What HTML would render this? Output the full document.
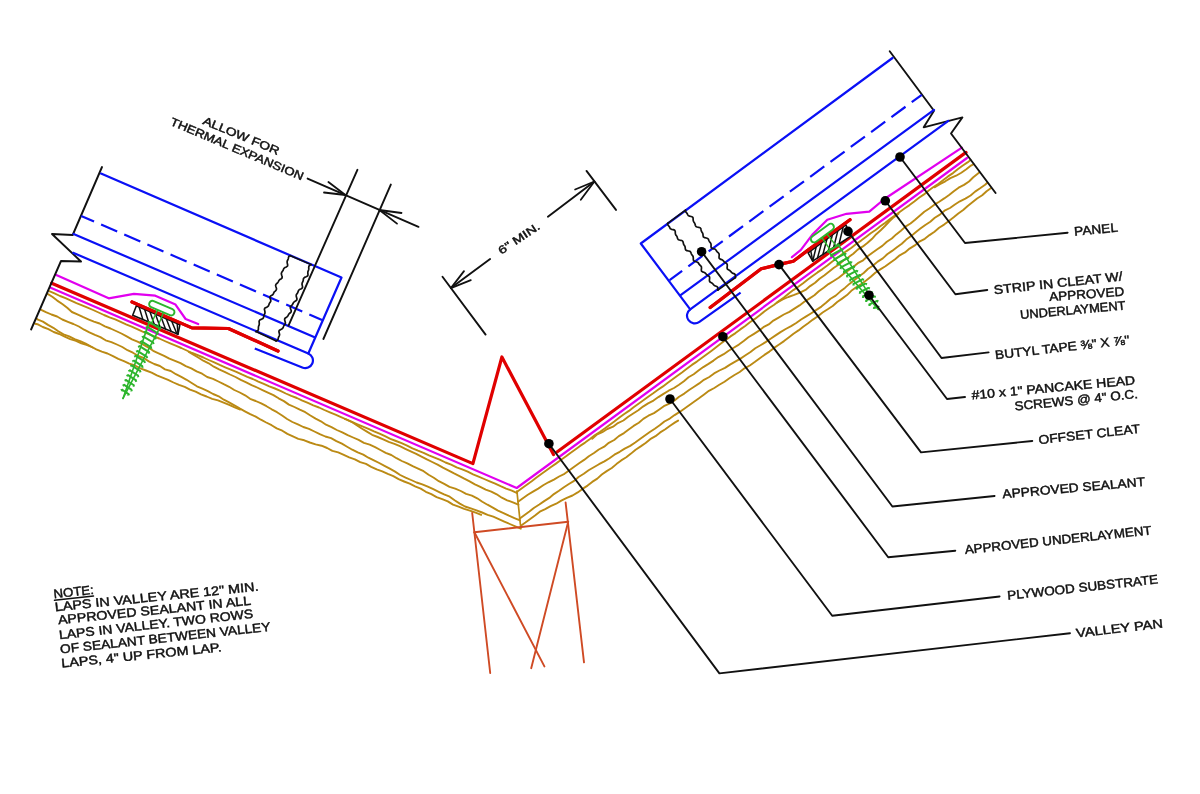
<!DOCTYPE html>
<html><head><meta charset="utf-8"><style>
html,body{margin:0;padding:0;background:#fff;}
body{width:1200px;height:794px;overflow:hidden;position:relative;}
svg{position:absolute;left:0;top:0;will-change:transform;}
.t{font-family:"Liberation Sans",sans-serif;fill:#111;stroke:#111;stroke-width:0.45px;}
</style></head><body>
<svg width="1200" height="794" viewBox="0 0 1200 794">
<rect width="1200" height="794" fill="#fff"/>
<path d="M517.2 493.2 L511.8 490.7 L506.1 488.6 L500.6 486.2 L495.2 483.7 L489.7 481.4 L484.2 479.0 L478.6 476.7 L473.1 474.4 L467.7 471.7 L462.2 469.3 L456.6 467.3 L451.1 464.7 L445.5 462.5 L440.2 459.8 L434.6 457.6 L429.0 455.3 L423.6 452.8 L418.0 450.7 L412.5 448.3 L407.1 445.6 L401.6 443.2 L396.0 441.0 L390.4 438.8 L385.0 436.2 L379.5 433.7 L374.0 431.4 L368.5 428.9 L363.0 426.6 L357.5 424.3 L351.9 421.9 L346.5 419.5 L341.0 417.1 L335.5 414.7 L329.9 412.4 L324.4 410.0 L319.0 407.5 L313.3 405.4 L307.9 402.9 L302.4 400.6 L296.9 398.0 L291.3 395.9 L285.8 393.5 L280.4 390.8 L274.9 388.5 L269.3 386.3 L263.8 383.9 L258.3 381.6 L252.8 379.0 L247.3 376.8 L241.8 374.4 L236.3 371.8 L230.8 369.6 L225.2 367.3 L219.7 364.9 L214.3 362.4 L208.7 360.0 L203.3 357.5 L197.8 355.2 L192.2 353.0 L186.7 350.5 L181.3 348.0 L175.7 345.7 L170.2 343.4 L164.7 341.0 L159.2 338.5 L153.7 336.2 L148.2 333.8 L142.6 331.6 L137.2 329.1 L131.7 326.7 L126.1 324.3 L120.7 321.8 L115.2 319.4 L109.6 317.3 L104.0 315.0 L98.6 312.5 L93.1 310.0 L87.6 307.6 L82.1 305.3 L76.5 303.1 L71.0 300.7 L65.5 298.2 L60.0 296.0 L54.5 293.4 L49.2 291.2" stroke="#bb8a14" stroke-width="1.9" fill="none" stroke-linejoin="round" stroke-linecap="round" />
<path d="M518.4 504.7 L512.9 502.4 L507.2 500.3 L501.8 497.7 L496.7 494.3 L491.3 491.6 L485.7 489.6 L480.3 486.9 L474.9 484.3 L469.6 481.4 L464.3 478.7 L459.0 475.8 L453.6 473.2 L448.3 470.3 L442.9 467.7 L437.6 464.7 L432.2 462.0 L426.9 459.4 L421.5 456.6 L416.2 453.8 L410.7 451.3 L405.3 448.8 L399.9 446.2 L394.4 443.8 L388.7 441.8 L383.2 439.3 L377.7 437.0 L372.1 434.8 L366.9 431.6 L361.7 428.5 L356.7 425.1 L351.5 421.8 L346.1 419.4 L345.0 419.1" stroke="#bb8a14" stroke-width="1.9" fill="none" stroke-linejoin="round" stroke-linecap="round" />
<path d="M520.0 520.4 L514.4 518.1 L508.9 515.7 L503.5 513.1 L498.0 510.6 L492.8 507.6 L487.5 504.7 L482.3 501.7 L477.2 498.3 L471.9 495.6 L466.1 493.9 L460.8 491.0 L455.2 488.6 L449.5 486.9 L444.2 483.9 L438.8 481.2 L433.8 477.8 L428.6 474.7 L423.6 471.2 L418.1 468.6 L412.7 466.2 L407.3 463.4 L401.8 461.0 L396.5 458.2 L391.3 455.0 L385.7 452.8 L380.4 450.0 L375.1 447.2 L369.7 444.6 L363.9 442.8 L358.6 439.9 L353.1 437.5 L347.7 435.1 L342.3 432.4 L336.8 430.0 L331.5 427.2 L326.0 424.7 L320.9 421.3 L315.6 418.6 L310.4 415.5 L305.3 412.2 L299.8 409.7 L294.4 407.0 L288.9 404.6 L283.9 401.1 L278.6 398.3 L273.4 395.1 L267.9 392.6 L262.5 390.1 L257.1 387.5 L251.6 385.1 L246.2 382.4 L240.8 379.9 L235.5 377.0 L230.0 374.5 L224.6 371.8 L219.1 369.4 L213.8 366.7 L208.7 363.3 L203.3 360.7 L198.2 357.5 L193.0 354.4 L188.8 351.9" stroke="#bb8a14" stroke-width="1.9" fill="none" stroke-linejoin="round" stroke-linecap="round" />
<path d="M520.8 528.7 L515.3 526.4 L509.8 524.0 L504.3 521.6 L498.8 519.1 L493.3 516.7 L487.6 514.8 L482.1 512.5 L476.5 510.3 L470.8 508.4 L465.0 506.5 L459.8 503.6 L454.6 500.3 L449.7 496.7 L444.1 494.4 L438.7 491.8 L433.3 489.2 L427.8 486.7 L422.3 484.3 L416.6 482.5 L411.1 480.0 L405.6 477.6 L400.2 475.0 L395.1 471.6 L389.8 468.7 L384.5 465.9 L379.2 463.0 L373.9 460.3 L368.4 457.7 L363.3 454.6 L357.7 452.4 L352.3 449.7 L347.1 446.7 L341.9 443.6 L336.4 441.1 L331.1 438.2 L325.3 436.5 L319.8 434.1 L314.4 431.5 L309.0 428.9 L303.3 427.0 L297.9 424.4 L292.4 422.0 L287.1 419.0 L282.1 415.5 L277.0 412.2 L271.7 409.3 L266.5 406.2 L261.2 403.4 L255.7 401.0 L250.1 398.8 L245.1 395.3 L239.8 392.5 L234.3 390.0 L229.1 386.8 L223.7 384.2 L218.4 381.5 L213.0 378.8 L207.2 377.0 L202.1 373.7 L196.6 371.3 L191.3 368.4 L185.8 366.1 L180.5 363.2 L175.0 360.8 L169.4 358.7 L164.1 355.8 L158.6 353.3 L153.2 350.8 L148.1 347.3 L142.9 344.4 L137.5 341.7 L132.0 339.3 L126.7 336.4 L121.4 333.5 L116.0 331.0 L110.5 328.5 L104.9 326.3 L99.6 323.5 L93.9 321.6 L88.3 319.3 L82.8 316.9 L77.4 314.3 L71.9 312.0 L67.2 307.8 L62.3 304.0 L57.2 300.6 L52.3 296.8 L48.0 294.1" stroke="#bb8a14" stroke-width="1.9" fill="none" stroke-linejoin="round" stroke-linecap="round" />
<path d="M481.2 514.8 L475.6 512.7 L469.9 510.7 L464.2 508.9 L458.6 506.7 L453.0 504.6 L447.8 501.4 L442.2 499.2 L436.6 497.1 L431.3 494.2 L425.8 491.8 L420.7 488.6 L415.1 486.4 L409.7 483.7 L404.1 481.5 L398.6 479.2 L393.3 476.2 L387.8 473.9 L382.3 471.4 L376.7 469.4 L371.2 466.8 L366.0 463.9 L360.2 462.1 L354.9 459.3 L349.2 457.4 L343.8 454.8 L338.2 452.4 L332.4 450.9 L327.1 448.0 L321.5 445.7 L315.6 444.4 L309.8 442.5 L304.3 440.3 L298.3 438.9 L292.9 436.4 L287.4 433.9 L282.3 430.7 L276.7 428.4 L271.6 425.2 L266.2 422.5 L260.9 419.7 L255.7 416.6 L250.2 414.2 L244.9 411.3 L239.6 408.4 L234.4 405.3 L229.1 402.4 L223.8 399.7 L218.7 396.3 L213.1 394.0 L207.8 391.2 L202.4 388.7 L196.9 386.3 L191.7 383.0 L186.6 379.8 L181.3 376.9 L175.9 374.2 L170.8 371.0 L165.0 369.4 L159.9 366.0 L154.2 364.0 L148.8 361.4 L143.7 358.0 L138.1 355.8 L132.9 352.7 L127.5 350.2 L122.3 347.0 L116.9 344.5 L111.4 342.1 L105.6 340.3 L100.4 337.1 L94.9 334.9 L89.4 332.4 L84.1 329.7 L78.9 326.5 L73.4 324.0 L67.9 321.8 L62.3 319.5 L57.1 316.5 L51.4 314.5 L45.9 312.1 L41.2 309.8" stroke="#bb8a14" stroke-width="1.9" fill="none" stroke-linejoin="round" stroke-linecap="round" />
<path d="M240.2 409.5 L234.7 407.3 L229.2 404.9 L223.6 402.6 L218.0 400.4 L212.2 398.9 L206.6 396.5 L201.0 394.4 L195.6 391.7 L190.0 389.6 L184.7 386.9 L179.0 384.9 L173.5 382.5 L168.1 379.9 L162.5 377.6 L156.9 375.3 L151.6 372.6 L146.0 370.5 L140.4 368.3 L135.0 365.5 L129.3 363.6 L123.9 361.1 L118.3 358.9 L113.0 356.1 L107.5 353.5 L101.8 351.7 L96.3 349.3 L91.0 346.5 L85.7 343.7 L80.2 341.2 L74.6 339.1 L69.2 336.3 L63.5 334.4 L58.3 331.3 L53.3 327.8 L48.0 324.9 L42.9 321.6 L37.3 319.4 L37.3 318.9" stroke="#bb8a14" stroke-width="1.9" fill="none" stroke-linejoin="round" stroke-linecap="round" />
<path d="M92.7 347.5 L87.2 345.1 L81.4 343.4 L76.0 340.8 L70.2 339.1 L64.7 336.7 L59.3 334.0 L53.7 332.0 L48.4 329.1 L42.8 327.0 L37.4 324.2 L35.2 323.7" stroke="#bb8a14" stroke-width="1.9" fill="none" stroke-linejoin="round" stroke-linecap="round" />
<path d="M517.1 491.8 L521.9 488.2 L526.8 484.7 L531.7 481.3 L536.5 477.6 L541.3 474.1 L546.2 470.6 L551.0 467.0 L555.9 463.6 L560.8 460.1 L565.7 456.6 L570.4 452.9 L575.3 449.4 L580.1 445.9 L585.1 442.6 L590.0 439.0 L594.7 435.3 L599.8 432.1 L604.7 428.6 L609.5 425.0 L614.3 421.5 L619.1 417.8 L623.9 414.3 L628.9 410.9 L633.6 407.3 L638.5 403.8 L643.4 400.3 L648.2 396.7 L653.2 393.3 L658.0 389.8 L663.0 386.4 L667.8 382.7 L672.6 379.2 L677.4 375.7 L682.3 372.2 L687.1 368.6 L691.9 364.9 L696.9 361.6 L701.7 358.1 L706.5 354.5 L711.3 350.9 L716.1 347.2 L720.9 343.6 L725.7 340.1 L730.5 336.4 L735.5 333.1 L740.3 329.4 L745.2 326.0 L749.9 322.3 L754.9 318.9 L759.7 315.3 L764.3 311.5 L769.2 308.0 L774.2 304.7 L778.9 301.0 L783.9 297.6 L788.5 293.8 L793.3 290.1 L798.3 286.8 L803.1 283.3 L807.8 279.5 L812.6 275.9 L817.5 272.4 L822.5 269.1 L827.3 265.5 L832.0 261.7 L836.8 258.2 L841.7 254.6 L846.5 251.1 L851.5 247.7 L856.2 244.0 L861.1 240.6 L865.9 237.0 L870.7 233.3 L875.6 230.0 L880.3 226.2 L885.3 222.8 L890.0 219.1 L894.9 215.6 L899.7 212.0 L904.5 208.5 L909.5 205.1 L914.3 201.5 L919.0 197.8 L924.0 194.4 L928.7 190.6 L933.5 187.1 L938.5 183.7 L943.3 180.1 L948.0 176.4 L953.0 173.1 L957.7 169.3 L962.5 165.8 L967.5 162.4 L970.6 160.0" stroke="#bb8a14" stroke-width="1.9" fill="none" stroke-linejoin="round" stroke-linecap="round" />
<path d="M518.1 501.7 L522.9 498.2 L527.8 494.7 L533.0 491.6 L538.2 488.6 L543.2 485.3 L548.4 482.3 L553.9 479.6 L559.1 476.5 L564.5 473.8 L569.4 470.3 L574.2 466.7 L579.1 463.2 L584.1 459.9 L588.8 456.2 L594.0 453.0 L598.8 449.5 L604.2 446.7 L608.8 442.8 L614.2 440.0 L618.8 436.1 L624.0 433.1 L628.7 429.4 L633.6 425.9 L638.8 422.8 L643.3 418.9 L648.4 415.7 L654.0 413.1 L658.9 409.7 L663.8 406.2 L669.4 403.7 L674.5 400.5 L679.1 396.7 L684.3 393.6 L689.1 390.0 L694.1 386.7 L699.2 383.4 L703.9 379.8 L709.3 377.0 L714.1 373.4 L719.4 370.5 L725.0 367.9 L730.0 364.6 L735.2 361.6 L740.5 358.6 L745.5 355.3 L750.5 352.0 L755.3 348.3 L760.5 345.3 L765.6 342.1 L770.6 338.8 L775.6 335.4 L780.5 332.1 L785.7 329.0 L791.1 326.1 L796.2 323.0 L801.1 319.5 L806.2 316.4 L811.3 313.2 L816.4 309.9 L821.4 306.6 L826.0 302.8 L830.5 298.8 L835.7 295.6 L840.2 291.6 L844.9 287.9 L849.4 283.9 L854.2 280.3 L858.8 276.5 L863.7 273.0 L868.1 268.8 L873.1 265.5 L877.7 261.6 L882.8 258.4 L887.2 254.3 L892.1 250.9 L896.9 247.2 L901.8 243.7 L906.2 239.6 L911.1 236.1 L915.7 232.2 L920.4 228.6 L925.3 225.0 L930.3 221.7 L934.8 217.8 L939.9 214.6 L944.5 210.7 L950.0 208.0 L954.9 204.5 L959.9 201.3 L965.4 198.6 L970.6 195.5 L975.1 191.6 L980.1 188.3 L985.1 184.8 L987.3 182.8" stroke="#bb8a14" stroke-width="1.9" fill="none" stroke-linejoin="round" stroke-linecap="round" />
<path d="M519.8 518.5 L524.6 514.9 L529.4 511.4 L534.2 507.7 L539.3 504.5 L544.2 501.1 L549.3 497.9 L553.9 494.1 L559.0 490.8 L563.9 487.3 L568.9 484.0 L574.1 480.9 L578.6 477.0 L583.8 473.8 L588.6 470.3 L593.8 467.2 L599.0 464.2 L604.4 461.4 L609.5 458.2 L614.4 454.7 L619.7 451.8 L624.7 448.6 L630.2 445.9 L635.2 442.5 L640.0 439.0 L644.9 435.5 L649.8 432.0 L654.8 428.7 L659.7 425.3 L664.4 421.5 L669.8 418.6 L674.6 415.1 L679.7 411.9 L684.6 408.4 L689.5 404.9 L694.4 401.5 L699.3 398.0 L704.1 394.4 L708.9 390.8 L714.3 388.0 L719.3 384.8 L724.5 381.7 L729.4 378.3 L734.5 375.0 L739.7 372.0 L744.5 368.3 L749.8 365.5 L754.7 362.0 L759.5 358.4 L764.4 354.9 L769.4 351.6 L774.1 347.9 L779.1 344.5 L784.0 341.1 L788.7 337.4 L793.5 333.7 L798.5 330.4 L803.2 326.7 L808.1 323.2 L812.9 319.6 L817.9 316.2 L822.6 312.5 L827.7 309.3 L832.7 306.0 L837.2 302.0 L842.1 298.6 L847.0 295.1 L851.3 290.8 L856.2 287.3 L861.3 284.1 L866.1 280.5 L870.8 276.8 L875.3 272.8 L880.3 269.4 L885.4 266.2 L890.2 262.7 L895.1 259.2 L899.7 255.3 L905.0 252.4 L909.6 248.6 L914.8 245.4 L919.4 241.6 L924.8 238.8 L929.5 235.1 L934.5 231.7 L939.1 227.8 L944.1 224.6 L948.9 221.0 L953.7 217.3 L958.3 213.5 L963.2 210.0 L967.7 206.0 L972.4 202.3 L977.1 198.5 L982.2 195.3 L986.6 191.2 L991.1 188.0" stroke="#bb8a14" stroke-width="1.9" fill="none" stroke-linejoin="round" stroke-linecap="round" />
<path d="M520.5 526.1 L525.4 522.6 L530.2 519.0 L535.0 515.5 L539.8 511.7 L545.2 509.1 L550.6 506.2 L556.2 503.7 L561.3 500.6 L566.8 497.9 L572.5 495.5 L577.7 492.4 L582.5 488.9 L587.6 485.6 L592.2 481.9 L597.3 478.6 L601.8 474.5 L606.7 471.1 L611.8 468.0 L616.4 464.1 L621.2 460.4 L626.3 457.3 L631.0 453.6 L635.6 449.7 L640.7 446.4 L645.6 443.0 L650.2 439.2 L655.5 436.2 L660.2 432.4 L665.3 429.3 L670.1 425.7 L675.1 422.4 L678.1 420.6" stroke="#bb8a14" stroke-width="1.9" fill="none" stroke-linejoin="round" stroke-linecap="round" />
<path d="M592.2 438.8 L596.7 434.7 L602.3 432.2 L607.3 429.0 L613.1 426.7 L617.9 423.1 L623.4 420.5 L628.2 416.8 L633.2 413.5 L638.3 410.3 L643.0 406.6 L648.1 403.4 L653.5 400.6 L658.4 397.1 L663.5 393.9 L668.6 390.7 L674.0 388.0 L679.0 384.7 L683.9 381.2 L688.5 377.3 L693.7 374.3 L698.5 370.6 L703.3 367.1 L708.5 363.9 L713.5 360.6 L718.3 357.1 L723.7 354.2 L728.6 350.8 L733.7 347.7 L738.9 344.6 L743.7 341.0 L748.4 337.3 L753.6 334.1 L758.6 330.9 L763.4 327.2 L768.7 324.4 L773.4 320.6 L778.6 317.6 L783.8 314.5 L789.4 311.9 L794.4 308.6 L799.5 305.4 L804.3 301.8 L809.3 298.6 L814.4 295.3 L818.8 291.2 L823.7 287.7 L828.5 284.1 L833.6 281.0 L838.7 277.7 L843.4 274.0 L848.2 270.4 L853.1 267.0 L857.8 263.2 L863.1 260.3 L867.6 256.3 L872.4 252.7 L877.3 249.2 L882.3 245.9 L886.8 241.8 L891.8 238.5 L896.2 234.4 L900.9 230.7 L905.4 226.6 L910.5 223.5 L915.1 219.7 L919.7 215.7 L924.3 211.8 L929.3 208.5 L934.0 204.9 L939.2 201.7 L944.2 198.4 L949.1 194.9 L953.8 191.2 L958.6 187.7 L964.0 184.9 L969.0 181.5 L973.3 177.3 L978.0 173.5 L979.6 172.3" stroke="#bb8a14" stroke-width="1.9" fill="none" stroke-linejoin="round" stroke-linecap="round" />
<path d="M777.4 302.4 L782.7 299.4 L788.3 297.0 L794.2 294.9 L800.0 292.6 L805.5 289.9 L810.1 286.1 L815.1 282.8 L819.5 278.7 L824.5 275.2 L829.2 271.6 L833.9 267.8 L838.9 264.5 L843.4 260.5 L848.4 257.2 L853.3 253.7 L857.7 249.6 L862.9 246.4 L867.6 242.8 L872.1 238.8 L876.2 234.2 L880.7 230.2 L885.0 226.0 L889.2 221.5 L893.6 217.4 L898.5 213.8" stroke="#bb8a14" stroke-width="1.9" fill="none" stroke-linejoin="round" stroke-linecap="round" />
<path d="M934.8 187.2 L939.9 184.1 L945.3 181.3 L950.4 178.1 L956.1 175.7 L961.3 172.7 L966.3 169.3 L971.0 165.6 L973.7 164.2" stroke="#bb8a14" stroke-width="1.9" fill="none" stroke-linejoin="round" stroke-linecap="round" />
<path d="M516.9 491.0 L520.4 524.5" stroke="#bb8a14" stroke-width="1.7" fill="none" stroke-linejoin="round" stroke-linecap="round" />
<path d="M50.7 287.7 L516.7 488.0 L967.0 158.0" stroke="#e100ef" stroke-width="2.2" fill="none" stroke-linejoin="round" stroke-linecap="round" />
<path d="M51.7 283.2 L472.9 463.6 L501.9 357.0 L553.5 454.6" stroke="#e00000" stroke-width="3.2" fill="none" stroke-linejoin="round" stroke-linecap="round" />
<path d="M557.0 452.0 L966.0 152.4" stroke="#e00000" stroke-width="3.2" fill="none" stroke-linejoin="round" stroke-linecap="round" />
<path d="M56.3 275.1 L108.7 298.3 L133.9 293.8 L155.3 295.7 L175.5 304.6 L185.6 319.0 L198.2 324.0" stroke="#e100ef" stroke-width="2.2" fill="none" stroke-linejoin="round" stroke-linecap="round" />
<path d="M791.9 257.2 L800.9 249.9 L812.2 234.8 L827.3 219.7 L846.5 213.8 L869.3 211.6 L884.4 199.0 L961.9 147.7" stroke="#e100ef" stroke-width="2.2" fill="none" stroke-linejoin="round" stroke-linecap="round" />
<path d="M132.0 302.0 L191.9 327.9 L228.4 328.5 L278.0 351.0" stroke="#e00000" stroke-width="3.2" fill="none" stroke-linejoin="round" stroke-linecap="round" />
<path d="M710.2 307.5 L761.2 268.8 L778.2 264.6 L793.3 261.2 L808.4 249.9 L850.0 219.7" stroke="#e00000" stroke-width="3.2" fill="none" stroke-linejoin="round" stroke-linecap="round" />
<polygon points="136.4,305.8 179.9,324.7 178.0,334.2 132.7,315.3" fill="#fff" stroke="#111" stroke-width="1.6" stroke-linejoin="round"/>
<path d="M139.1 307.0 L142.9 319.6" stroke="#111" stroke-width="1.5" fill="none" stroke-linejoin="round" stroke-linecap="round" />
<path d="M144.6 309.3 L148.6 321.9" stroke="#111" stroke-width="1.5" fill="none" stroke-linejoin="round" stroke-linecap="round" />
<path d="M150.0 311.7 L154.2 324.3" stroke="#111" stroke-width="1.5" fill="none" stroke-linejoin="round" stroke-linecap="round" />
<path d="M155.4 314.1 L159.9 326.6" stroke="#111" stroke-width="1.5" fill="none" stroke-linejoin="round" stroke-linecap="round" />
<path d="M160.9 316.4 L165.5 329.0" stroke="#111" stroke-width="1.5" fill="none" stroke-linejoin="round" stroke-linecap="round" />
<path d="M166.3 318.8 L171.2 331.4" stroke="#111" stroke-width="1.5" fill="none" stroke-linejoin="round" stroke-linecap="round" />
<path d="M171.7 321.2 L176.9 333.7" stroke="#111" stroke-width="1.5" fill="none" stroke-linejoin="round" stroke-linecap="round" />
<path d="M177.2 323.5 L178.0 334.2" stroke="#111" stroke-width="1.5" fill="none" stroke-linejoin="round" stroke-linecap="round" />
<polygon points="808.1,252.9 845.9,224.9 850.4,236.3 812.7,261.2" fill="#fff" stroke="#111" stroke-width="1.6" stroke-linejoin="round"/>
<path d="M810.8 250.9 L812.7 261.2" stroke="#111" stroke-width="1.5" fill="none" stroke-linejoin="round" stroke-linecap="round" />
<path d="M816.2 246.9 L812.7 261.2" stroke="#111" stroke-width="1.5" fill="none" stroke-linejoin="round" stroke-linecap="round" />
<path d="M821.6 242.9 L817.5 258.0" stroke="#111" stroke-width="1.5" fill="none" stroke-linejoin="round" stroke-linecap="round" />
<path d="M827.0 238.9 L822.9 254.4" stroke="#111" stroke-width="1.5" fill="none" stroke-linejoin="round" stroke-linecap="round" />
<path d="M832.4 234.9 L828.3 250.9" stroke="#111" stroke-width="1.5" fill="none" stroke-linejoin="round" stroke-linecap="round" />
<path d="M837.8 230.9 L833.7 247.3" stroke="#111" stroke-width="1.5" fill="none" stroke-linejoin="round" stroke-linecap="round" />
<path d="M843.2 226.9 L839.1 243.8" stroke="#111" stroke-width="1.5" fill="none" stroke-linejoin="round" stroke-linecap="round" />
<path d="M132.0 302.0 L191.9 327.9 L228.4 328.5 L278.0 351.0" stroke="#e00000" stroke-width="3.2" fill="none" stroke-linejoin="round" stroke-linecap="round" />
<path d="M710.2 307.5 L761.2 268.8 L778.2 264.6 L793.3 261.2 L808.4 249.9 L850.0 219.7" stroke="#e00000" stroke-width="3.2" fill="none" stroke-linejoin="round" stroke-linecap="round" />
<rect x="-13.5" y="-3.3" width="27" height="6.6" rx="3.3" ry="3.3" transform="translate(161.8 308.1) rotate(23.26)" fill="none" stroke="#2cb52c" stroke-width="1.9"/>
<path d="M157.4 310.3 L151.1 324.0" stroke="#2cb52c" stroke-width="1.4" fill="none" stroke-linejoin="round" stroke-linecap="round" />
<path d="M163.3 312.9 L157.7 326.8" stroke="#2cb52c" stroke-width="1.4" fill="none" stroke-linejoin="round" stroke-linecap="round" />
<path d="M149.3 322.1 L123.0 398.4" stroke="#2cb52c" stroke-width="1.6" fill="none" stroke-linejoin="round" stroke-linecap="round" />
<path d="M160.3 326.8 L123.0 398.4" stroke="#2cb52c" stroke-width="1.6" fill="none" stroke-linejoin="round" stroke-linecap="round" />
<path d="M149.3 322.1 L159.6 328.3" stroke="#2cb52c" stroke-width="2.0" fill="none" stroke-linejoin="round" stroke-linecap="round" />
<path d="M149.7 321.2 L147.2 321.8 L148.5 324.1Z" fill="#2cb52c"/>
<path d="M160.1 327.4 L161.2 329.6 L158.7 330.3Z" fill="#2cb52c"/>
<path d="M147.4 326.9 L157.5 333.0" stroke="#2cb52c" stroke-width="2.0" fill="none" stroke-linejoin="round" stroke-linecap="round" />
<path d="M147.7 326.0 L145.3 326.7 L146.5 329.0Z" fill="#2cb52c"/>
<path d="M157.9 332.1 L159.0 334.3 L156.5 335.0Z" fill="#2cb52c"/>
<path d="M145.4 331.7 L155.3 337.7" stroke="#2cb52c" stroke-width="2.0" fill="none" stroke-linejoin="round" stroke-linecap="round" />
<path d="M145.8 330.8 L143.4 331.5 L144.6 333.8Z" fill="#2cb52c"/>
<path d="M155.7 336.8 L156.9 339.1 L154.4 339.7Z" fill="#2cb52c"/>
<path d="M143.5 336.6 L153.1 342.5" stroke="#2cb52c" stroke-width="2.0" fill="none" stroke-linejoin="round" stroke-linecap="round" />
<path d="M143.9 335.7 L141.4 336.3 L142.7 338.6Z" fill="#2cb52c"/>
<path d="M153.5 341.5 L154.7 343.8 L152.2 344.4Z" fill="#2cb52c"/>
<path d="M141.6 341.4 L150.9 347.2" stroke="#2cb52c" stroke-width="2.0" fill="none" stroke-linejoin="round" stroke-linecap="round" />
<path d="M141.9 340.5 L139.5 341.2 L140.8 343.5Z" fill="#2cb52c"/>
<path d="M151.3 346.3 L152.5 348.5 L150.0 349.2Z" fill="#2cb52c"/>
<path d="M139.6 346.2 L148.7 351.9" stroke="#2cb52c" stroke-width="2.0" fill="none" stroke-linejoin="round" stroke-linecap="round" />
<path d="M140.0 345.3 L137.6 346.0 L138.8 348.3Z" fill="#2cb52c"/>
<path d="M149.2 351.0 L150.3 353.2 L147.8 353.9Z" fill="#2cb52c"/>
<path d="M137.7 351.1 L146.6 356.6" stroke="#2cb52c" stroke-width="2.0" fill="none" stroke-linejoin="round" stroke-linecap="round" />
<path d="M138.1 350.1 L135.6 350.8 L136.9 353.1Z" fill="#2cb52c"/>
<path d="M147.0 355.7 L148.2 358.0 L145.6 358.6Z" fill="#2cb52c"/>
<path d="M135.8 355.9 L144.4 361.3" stroke="#2cb52c" stroke-width="2.0" fill="none" stroke-linejoin="round" stroke-linecap="round" />
<path d="M136.2 355.0 L133.7 355.7 L135.0 357.9Z" fill="#2cb52c"/>
<path d="M144.8 360.4 L146.0 362.7 L143.5 363.3Z" fill="#2cb52c"/>
<path d="M133.9 360.7 L142.2 366.1" stroke="#2cb52c" stroke-width="2.0" fill="none" stroke-linejoin="round" stroke-linecap="round" />
<path d="M134.2 359.8 L131.8 360.5 L133.0 362.8Z" fill="#2cb52c"/>
<path d="M142.6 365.2 L143.8 367.4 L141.3 368.1Z" fill="#2cb52c"/>
<path d="M131.9 365.6 L140.0 370.8" stroke="#2cb52c" stroke-width="2.0" fill="none" stroke-linejoin="round" stroke-linecap="round" />
<path d="M132.3 364.6 L129.9 365.3 L131.1 367.6Z" fill="#2cb52c"/>
<path d="M140.5 369.9 L141.6 372.1 L139.1 372.8Z" fill="#2cb52c"/>
<path d="M130.0 370.4 L137.9 375.5" stroke="#2cb52c" stroke-width="2.0" fill="none" stroke-linejoin="round" stroke-linecap="round" />
<path d="M130.4 369.5 L127.9 370.2 L129.2 372.4Z" fill="#2cb52c"/>
<path d="M138.3 374.6 L139.4 376.9 L136.9 377.5Z" fill="#2cb52c"/>
<path d="M128.1 375.2 L135.7 380.2" stroke="#2cb52c" stroke-width="2.0" fill="none" stroke-linejoin="round" stroke-linecap="round" />
<path d="M128.4 374.3 L126.0 375.0 L127.3 377.3Z" fill="#2cb52c"/>
<path d="M136.1 379.3 L137.3 381.6 L134.8 382.2Z" fill="#2cb52c"/>
<path d="M126.1 380.1 L133.5 385.0" stroke="#2cb52c" stroke-width="2.0" fill="none" stroke-linejoin="round" stroke-linecap="round" />
<path d="M126.5 379.1 L124.1 379.8 L125.3 382.1Z" fill="#2cb52c"/>
<path d="M133.9 384.1 L135.1 386.3 L132.6 387.0Z" fill="#2cb52c"/>
<path d="M124.2 384.9 L131.3 389.7" stroke="#2cb52c" stroke-width="2.0" fill="none" stroke-linejoin="round" stroke-linecap="round" />
<path d="M124.6 384.0 L122.1 384.7 L123.4 386.9Z" fill="#2cb52c"/>
<path d="M131.7 388.8 L132.9 391.0 L130.4 391.7Z" fill="#2cb52c"/>
<path d="M122.3 389.7 L128.5 394.1" stroke="#2cb52c" stroke-width="2.0" fill="none" stroke-linejoin="round" stroke-linecap="round" />
<path d="M122.7 388.8 L120.2 389.5 L122.4 392.2Z" fill="#2cb52c"/>
<path d="M129.4 393.4 L129.8 395.3 L126.5 395.7Z" fill="#2cb52c"/>
<rect x="-13.5" y="-3.3" width="27" height="6.6" rx="3.3" ry="3.3" transform="translate(822.4 233.1) rotate(-36.24)" fill="none" stroke="#2cb52c" stroke-width="1.9"/>
<path d="M822.1 238.0 L830.6 250.4" stroke="#2cb52c" stroke-width="1.4" fill="none" stroke-linejoin="round" stroke-linecap="round" />
<path d="M827.2 234.2 L836.4 246.1" stroke="#2cb52c" stroke-width="1.4" fill="none" stroke-linejoin="round" stroke-linecap="round" />
<path d="M828.1 251.0 L878.3 309.4" stroke="#2cb52c" stroke-width="1.6" fill="none" stroke-linejoin="round" stroke-linecap="round" />
<path d="M837.8 243.9 L878.3 309.4" stroke="#2cb52c" stroke-width="1.6" fill="none" stroke-linejoin="round" stroke-linecap="round" />
<path d="M828.1 251.0 L838.7 245.2" stroke="#2cb52c" stroke-width="2.0" fill="none" stroke-linejoin="round" stroke-linecap="round" />
<path d="M827.5 250.2 L826.8 252.6 L829.4 252.7Z" fill="#2cb52c"/>
<path d="M838.1 244.4 L840.6 244.5 L839.9 247.0Z" fill="#2cb52c"/>
<path d="M831.3 255.1 L841.6 249.5" stroke="#2cb52c" stroke-width="2.0" fill="none" stroke-linejoin="round" stroke-linecap="round" />
<path d="M830.7 254.3 L830.0 256.7 L832.6 256.8Z" fill="#2cb52c"/>
<path d="M841.1 248.7 L843.6 248.8 L842.9 251.3Z" fill="#2cb52c"/>
<path d="M834.5 259.2 L844.6 253.8" stroke="#2cb52c" stroke-width="2.0" fill="none" stroke-linejoin="round" stroke-linecap="round" />
<path d="M833.9 258.4 L833.2 260.9 L835.8 260.9Z" fill="#2cb52c"/>
<path d="M844.0 252.9 L846.6 253.1 L845.9 255.6Z" fill="#2cb52c"/>
<path d="M837.7 263.3 L847.6 258.0" stroke="#2cb52c" stroke-width="2.0" fill="none" stroke-linejoin="round" stroke-linecap="round" />
<path d="M837.0 262.5 L836.4 265.0 L839.0 265.0Z" fill="#2cb52c"/>
<path d="M847.0 257.2 L849.5 257.3 L848.8 259.8Z" fill="#2cb52c"/>
<path d="M840.8 267.4 L850.5 262.3" stroke="#2cb52c" stroke-width="2.0" fill="none" stroke-linejoin="round" stroke-linecap="round" />
<path d="M840.2 266.6 L839.6 269.1 L842.2 269.2Z" fill="#2cb52c"/>
<path d="M849.9 261.5 L852.5 261.6 L851.8 264.1Z" fill="#2cb52c"/>
<path d="M844.0 271.5 L853.5 266.6" stroke="#2cb52c" stroke-width="2.0" fill="none" stroke-linejoin="round" stroke-linecap="round" />
<path d="M843.4 270.7 L842.8 273.2 L845.4 273.3Z" fill="#2cb52c"/>
<path d="M852.9 265.8 L855.4 265.9 L854.7 268.4Z" fill="#2cb52c"/>
<path d="M847.2 275.6 L856.4 270.9" stroke="#2cb52c" stroke-width="2.0" fill="none" stroke-linejoin="round" stroke-linecap="round" />
<path d="M846.6 274.8 L846.0 277.3 L848.6 277.4Z" fill="#2cb52c"/>
<path d="M855.9 270.0 L858.4 270.2 L857.7 272.7Z" fill="#2cb52c"/>
<path d="M850.4 279.7 L859.4 275.1" stroke="#2cb52c" stroke-width="2.0" fill="none" stroke-linejoin="round" stroke-linecap="round" />
<path d="M849.8 279.0 L849.2 281.4 L851.8 281.5Z" fill="#2cb52c"/>
<path d="M858.8 274.3 L861.3 274.5 L860.6 277.0Z" fill="#2cb52c"/>
<path d="M853.6 283.9 L862.4 279.4" stroke="#2cb52c" stroke-width="2.0" fill="none" stroke-linejoin="round" stroke-linecap="round" />
<path d="M853.0 283.1 L852.3 285.5 L854.9 285.6Z" fill="#2cb52c"/>
<path d="M861.8 278.6 L864.3 278.7 L863.6 281.2Z" fill="#2cb52c"/>
<path d="M856.8 288.0 L865.3 283.7" stroke="#2cb52c" stroke-width="2.0" fill="none" stroke-linejoin="round" stroke-linecap="round" />
<path d="M856.2 287.2 L855.5 289.6 L858.1 289.7Z" fill="#2cb52c"/>
<path d="M864.7 282.9 L867.3 283.0 L866.6 285.5Z" fill="#2cb52c"/>
<path d="M860.0 292.1 L868.3 288.0" stroke="#2cb52c" stroke-width="2.0" fill="none" stroke-linejoin="round" stroke-linecap="round" />
<path d="M859.4 291.3 L858.7 293.7 L861.3 293.8Z" fill="#2cb52c"/>
<path d="M867.7 287.2 L870.2 287.3 L869.5 289.8Z" fill="#2cb52c"/>
<path d="M863.2 296.2 L871.2 292.3" stroke="#2cb52c" stroke-width="2.0" fill="none" stroke-linejoin="round" stroke-linecap="round" />
<path d="M862.6 295.4 L861.9 297.9 L864.5 297.9Z" fill="#2cb52c"/>
<path d="M870.7 291.4 L873.2 291.6 L872.5 294.1Z" fill="#2cb52c"/>
<path d="M866.4 300.3 L874.2 296.5" stroke="#2cb52c" stroke-width="2.0" fill="none" stroke-linejoin="round" stroke-linecap="round" />
<path d="M865.7 299.5 L865.1 302.0 L867.7 302.0Z" fill="#2cb52c"/>
<path d="M873.6 295.7 L876.1 295.8 L875.4 298.3Z" fill="#2cb52c"/>
<path d="M869.5 304.4 L877.1 300.8" stroke="#2cb52c" stroke-width="2.0" fill="none" stroke-linejoin="round" stroke-linecap="round" />
<path d="M868.9 303.6 L868.3 306.1 L871.1 306.0Z" fill="#2cb52c"/>
<path d="M876.6 300.0 L878.9 300.3 L877.5 303.3Z" fill="#2cb52c"/>
<path d="M874.2 307.4 L878.0 306.7" stroke="#2cb52c" stroke-width="2.0" fill="none" stroke-linejoin="round" stroke-linecap="round" />
<path d="M873.2 307.0 L872.9 309.1 L876.5 308.5Z" fill="#2cb52c"/>
<path d="M877.8 305.5 L879.7 306.2 L878.3 309.1Z" fill="#2cb52c"/>
<path d="M102.0 167.0 L72.7 235.0 L52.0 234.0 L81.0 261.5 L61.0 261.0 L31.1 329.5" stroke="#111" stroke-width="1.9" fill="none" stroke-linejoin="round" stroke-linecap="round" />
<path d="M889.7 51.3 L934.0 110.8 L923.7 127.3 L962.4 117.4 L951.0 133.5 L995.6 193.0" stroke="#111" stroke-width="1.9" fill="none" stroke-linejoin="round" stroke-linecap="round" />
<path d="M101.0 173.6 L341.5 277.5 L308.3 353.5" stroke="#0a10f5" stroke-width="2.2" fill="none" stroke-linejoin="round" stroke-linecap="round" />
<path d="M73.6 234.0 L314.6 337.2" stroke="#0a10f5" stroke-width="2.2" fill="none" stroke-linejoin="round" stroke-linecap="round" />
<path d="M72.5 252.5 L308.3 353.5 A7.6 7.6 0 0 1 302.3 367.5 L254.8 348.5" stroke="#0a10f5" stroke-width="2.2" fill="none"/>
<path d="M81.2 216.0 L322.0 320.0" stroke="#0a10f5" stroke-width="2.2" fill="none" stroke-dasharray="17.5 7.7" stroke-dashoffset="3.5"/>
<path d="M290.4 255.7 L311.2 264.6" stroke="#111" stroke-width="1.5" fill="none" stroke-linejoin="round" stroke-linecap="round" />
<path d="M256.0 331.5 L276.2 341.0" stroke="#111" stroke-width="1.5" fill="none" stroke-linejoin="round" stroke-linecap="round" />
<path d="M290.4 255.7 L288.9 256.3 L288.5 257.5 L288.3 258.7 L287.9 259.8 L287.3 260.8 L287.1 262.0 L287.3 263.5 L287.7 264.9 L287.5 266.1 L286.4 266.9 L284.9 267.6 L283.9 268.4 L283.4 269.5 L283.0 270.6 L282.3 271.6 L281.6 272.6 L281.3 273.8 L281.7 275.2 L282.2 276.8 L282.0 278.0 L281.0 278.9 L279.8 279.6 L278.9 280.5 L278.4 281.6 L277.8 282.6 L276.8 283.5 L275.9 284.4 L275.6 285.5 L276.0 287.0 L276.5 288.6 L276.4 289.8 L275.6 290.8 L274.6 291.6 L273.9 292.6 L273.4 293.7 L272.7 294.7 L271.5 295.4 L270.3 296.2 L269.9 297.3 L270.3 298.8 L270.8 300.3 L270.7 301.6 L270.0 302.6 L269.3 303.6 L268.9 304.7 L268.5 305.8 L267.6 306.7 L266.2 307.4 L264.9 308.1 L264.4 309.2 L264.7 310.6 L265.0 312.1 L264.9 313.3 L264.4 314.4 L263.9 315.5 L263.7 316.7 L263.4 317.9 L262.5 318.8 L261.0 319.4 L259.7 320.1 L259.1 321.1 L259.2 322.5 L259.3 323.9 L259.1 325.1 L258.6 326.1 L258.4 327.3 L258.4 328.7 L258.3 329.9 L257.4 330.8 L256.0 331.5" stroke="#111" stroke-width="1.7" fill="none" stroke-linejoin="round" stroke-linecap="round" />
<path d="M311.2 264.6 L309.8 265.3 L308.9 266.2 L308.7 267.4 L308.8 268.8 L308.6 270.0 L308.1 271.1 L307.8 272.3 L307.9 273.7 L308.0 275.0 L307.5 276.1 L306.1 276.8 L304.6 277.4 L303.6 278.3 L303.3 279.5 L303.2 280.7 L302.7 281.8 L302.2 282.9 L302.0 284.2 L302.3 285.6 L302.6 287.1 L302.1 288.2 L300.8 288.9 L299.4 289.6 L298.5 290.5 L298.1 291.6 L297.7 292.7 L297.0 293.7 L296.3 294.7 L296.2 296.0 L296.6 297.5 L297.0 299.0 L296.6 300.2 L295.5 301.0 L294.3 301.7 L293.4 302.7 L292.9 303.8 L292.3 304.8 L291.3 305.7 L290.5 306.6 L290.3 307.9 L290.8 309.4 L291.3 310.9 L291.0 312.1 L290.0 313.0 L289.0 313.9 L288.4 314.9 L287.8 316.0 L287.0 316.9 L285.8 317.7 L284.8 318.5 L284.6 319.8 L285.0 321.3 L285.4 322.8 L285.2 324.0 L284.4 325.0 L283.7 325.9 L283.3 327.1 L282.8 328.2 L281.8 329.0 L280.4 329.7 L279.2 330.5 L278.9 331.7 L279.3 333.2 L279.6 334.6 L279.3 335.8 L278.7 336.9 L278.3 338.0 L278.1 339.2 L277.6 340.3 L276.2 341.0" stroke="#111" stroke-width="1.7" fill="none" stroke-linejoin="round" stroke-linecap="round" />
<path d="M892.5 58.0 L640.8 243.5 L690.2 309.3" stroke="#0a10f5" stroke-width="2.2" fill="none" stroke-linejoin="round" stroke-linecap="round" />
<path d="M680.6 295.2 L934.0 109.9" stroke="#0a10f5" stroke-width="2.2" fill="none" stroke-linejoin="round" stroke-linecap="round" />
<path d="M949 120.3 L690.2 309.3 A7.8 7.8 0 0 0 699.4 321.9 L740.6 292.7" stroke="#0a10f5" stroke-width="2.2" fill="none"/>
<path d="M921.8 94.8 L669.6 280.1" stroke="#0a10f5" stroke-width="2.2" fill="none" stroke-dasharray="17.5 7.7" stroke-dashoffset="5"/>
<path d="M667.6 223.4 L685.5 210.2" stroke="#111" stroke-width="1.5" fill="none" stroke-linejoin="round" stroke-linecap="round" />
<path d="M735.5 277.6 L717.9 290.2" stroke="#111" stroke-width="1.5" fill="none" stroke-linejoin="round" stroke-linecap="round" />
<path d="M667.6 223.4 L667.7 224.8 L668.5 225.7 L669.3 226.6 L669.8 227.7 L670.4 228.7 L671.6 229.3 L673.2 229.6 L674.6 230.1 L675.2 231.1 L675.3 232.6 L675.4 234.0 L675.9 235.1 L676.7 236.0 L677.2 237.1 L677.5 238.4 L678.1 239.4 L679.3 240.0 L680.9 240.3 L682.3 240.7 L683.0 241.7 L683.3 243.0 L683.6 244.3 L684.2 245.3 L684.9 246.3 L685.2 247.5 L685.3 248.9 L685.8 250.1 L686.9 250.7 L688.6 251.0 L690.0 251.4 L690.8 252.3 L691.2 253.5 L691.7 254.6 L692.5 255.5 L693.1 256.5 L693.3 257.9 L693.3 259.4 L693.6 260.7 L694.7 261.3 L696.2 261.7 L697.5 262.2 L698.4 263.0 L699.0 264.1 L699.8 265.0 L700.7 265.8 L701.4 266.8 L701.5 268.2 L701.3 269.8 L701.5 271.1 L702.5 271.9 L703.9 272.3 L705.1 272.9 L705.9 273.8 L706.7 274.7 L707.7 275.5 L708.8 276.1 L709.6 277.0 L709.6 278.5 L709.4 280.1 L709.6 281.5 L710.5 282.3 L711.7 282.9 L712.7 283.7 L713.4 284.6 L714.3 285.4 L715.5 286.0 L716.9 286.5 L717.7 287.4 L717.8 288.8 L717.9 290.2" stroke="#111" stroke-width="1.7" fill="none" stroke-linejoin="round" stroke-linecap="round" />
<path d="M685.5 210.2 L685.5 211.7 L686.4 212.5 L687.1 213.5 L687.7 214.6 L688.3 215.6 L689.5 216.2 L691.1 216.5 L692.5 217.0 L693.1 218.0 L693.1 219.5 L693.3 220.9 L693.8 222.0 L694.5 222.9 L695.0 224.0 L695.3 225.3 L695.9 226.4 L697.1 227.0 L698.7 227.3 L700.1 227.7 L700.9 228.7 L701.1 230.0 L701.4 231.2 L702.0 232.3 L702.7 233.3 L703.0 234.5 L703.1 236.0 L703.5 237.1 L704.7 237.7 L706.3 238.0 L707.7 238.5 L708.5 239.4 L708.9 240.6 L709.5 241.7 L710.3 242.6 L710.9 243.6 L711.1 245.0 L711.0 246.5 L711.3 247.8 L712.4 248.5 L713.9 248.8 L715.3 249.3 L716.1 250.2 L716.7 251.3 L717.5 252.2 L718.4 252.9 L719.1 254.0 L719.2 255.4 L719.0 257.0 L719.2 258.3 L720.2 259.1 L721.6 259.6 L722.8 260.2 L723.6 261.1 L724.3 262.0 L725.4 262.7 L726.5 263.4 L727.2 264.3 L727.3 265.8 L727.1 267.4 L727.2 268.8 L728.1 269.6 L729.3 270.2 L730.3 271.0 L731.1 271.9 L731.9 272.8 L733.1 273.4 L734.5 273.9 L735.3 274.8 L735.4 276.2 L735.5 277.6" stroke="#111" stroke-width="1.7" fill="none" stroke-linejoin="round" stroke-linecap="round" />
<path d="M472.2 513.0 L490.2 673.0" stroke="#cf4a24" stroke-width="1.9" fill="none" stroke-linejoin="round" stroke-linecap="round" />
<path d="M565.6 502.5 L584.0 662.4" stroke="#cf4a24" stroke-width="1.9" fill="none" stroke-linejoin="round" stroke-linecap="round" />
<path d="M474.4 532.3 L568.2 521.8" stroke="#cf4a24" stroke-width="1.9" fill="none" stroke-linejoin="round" stroke-linecap="round" />
<path d="M474.4 532.3 L544.4 666.4" stroke="#cf4a24" stroke-width="1.9" fill="none" stroke-linejoin="round" stroke-linecap="round" />
<path d="M568.2 521.8 L531.2 668.2" stroke="#cf4a24" stroke-width="1.9" fill="none" stroke-linejoin="round" stroke-linecap="round" />
<path d="M357.4 169.8 L288.5 325.6" stroke="#111" stroke-width="1.9" fill="none" stroke-linejoin="round" stroke-linecap="round" />
<path d="M390.8 184.6 L323.4 339.0" stroke="#111" stroke-width="1.9" fill="none" stroke-linejoin="round" stroke-linecap="round" />
<path d="M307.6 178.6 L418.5 226.8" stroke="#111" stroke-width="1.9" fill="none" stroke-linejoin="round" stroke-linecap="round" />
<path d="M328.4 182.0 L345.4 195.0 L324.0 192.5" stroke="#111" stroke-width="1.8" fill="none" stroke-linejoin="round" stroke-linecap="round" />
<path d="M401.5 213.0 L379.4 210.0 L397.0 223.6" stroke="#111" stroke-width="1.8" fill="none" stroke-linejoin="round" stroke-linecap="round" />
<path d="M442.5 276.8 L485.6 334.6" stroke="#111" stroke-width="1.9" fill="none" stroke-linejoin="round" stroke-linecap="round" />
<path d="M586.5 170.9 L616.0 209.9" stroke="#111" stroke-width="1.9" fill="none" stroke-linejoin="round" stroke-linecap="round" />
<path d="M450.9 288.1 L490.1 259.1" stroke="#111" stroke-width="1.9" fill="none" stroke-linejoin="round" stroke-linecap="round" />
<path d="M547.9 216.7 L594.4 181.5" stroke="#111" stroke-width="1.9" fill="none" stroke-linejoin="round" stroke-linecap="round" />
<path d="M464.0 271.1 L450.9 288.1 L470.8 280.2" stroke="#111" stroke-width="1.8" fill="none" stroke-linejoin="round" stroke-linecap="round" />
<path d="M575.1 189.5 L594.4 181.5 L580.8 199.7" stroke="#111" stroke-width="1.8" fill="none" stroke-linejoin="round" stroke-linecap="round" />
<path d="M900.0 157.0 L965.0 243.0 L1067.6 232.7" stroke="#111" stroke-width="1.9" fill="none" stroke-linejoin="round" stroke-linecap="round" />
<path d="M885.3 200.8 L955.4 294.2 L987.3 290.0" stroke="#111" stroke-width="1.9" fill="none" stroke-linejoin="round" stroke-linecap="round" />
<path d="M848.0 231.4 L941.5 358.0 L988.6 352.4" stroke="#111" stroke-width="1.9" fill="none" stroke-linejoin="round" stroke-linecap="round" />
<path d="M869.0 295.2 L947.0 399.0 L965.0 397.0" stroke="#111" stroke-width="1.9" fill="none" stroke-linejoin="round" stroke-linecap="round" />
<path d="M779.0 264.6 L921.0 452.4 L1032.3 441.0" stroke="#111" stroke-width="1.9" fill="none" stroke-linejoin="round" stroke-linecap="round" />
<path d="M701.6 251.7 L892.4 506.5 L994.6 496.0" stroke="#111" stroke-width="1.9" fill="none" stroke-linejoin="round" stroke-linecap="round" />
<path d="M722.9 336.7 L888.2 557.2 L955.3 550.7" stroke="#111" stroke-width="1.9" fill="none" stroke-linejoin="round" stroke-linecap="round" />
<path d="M670.0 399.0 L832.2 615.8 L999.6 596.5" stroke="#111" stroke-width="1.9" fill="none" stroke-linejoin="round" stroke-linecap="round" />
<path d="M548.9 443.7 L719.4 673.4 L1070.0 633.2" stroke="#111" stroke-width="1.9" fill="none" stroke-linejoin="round" stroke-linecap="round" />
<path d="M54.5 600.3 L93.5 596.0" stroke="#111" stroke-width="1.5" fill="none" stroke-linejoin="round" stroke-linecap="round" />
<circle cx="900" cy="157" r="4.8" fill="#000"/>
<circle cx="885.3" cy="200.8" r="4.8" fill="#000"/>
<circle cx="848" cy="231.4" r="4.8" fill="#000"/>
<circle cx="869" cy="295.2" r="4.8" fill="#000"/>
<circle cx="779" cy="264.6" r="4.8" fill="#000"/>
<circle cx="701.6" cy="251.7" r="4.8" fill="#000"/>
<circle cx="722.9" cy="336.7" r="4.8" fill="#000"/>
<circle cx="670" cy="399" r="4.8" fill="#000"/>
<circle cx="548.9" cy="443.7" r="4.8" fill="#000"/>
<text class="t" font-size="12.5" transform="translate(1074.6 235.7) rotate(-5.36)" textLength="43.9" lengthAdjust="spacingAndGlyphs">PANEL</text>
<text class="t" font-size="12.5" transform="translate(994.2 294.2) rotate(-6.16)" textLength="129.5" lengthAdjust="spacingAndGlyphs">STRIP IN CLEAT W/</text>
<text class="t" font-size="12.5" transform="translate(1049.6 301.1) rotate(-4.21)" textLength="75.0" lengthAdjust="spacingAndGlyphs">APPROVED</text>
<text class="t" font-size="12.5" transform="translate(1020.5 319.1) rotate(-5.26)" textLength="105.7" lengthAdjust="spacingAndGlyphs">UNDERLAYMENT</text>
<text class="t" font-size="12.5" transform="translate(995.6 359.3) rotate(-6.50)" textLength="135.2" lengthAdjust="spacingAndGlyphs">BUTYL TAPE ⅜&quot; X ⅞&quot;</text>
<text class="t" font-size="12.5" transform="translate(972.0 399.4) rotate(-5.31)" textLength="164.2" lengthAdjust="spacingAndGlyphs">#10 x 1&quot; PANCAKE HEAD</text>
<text class="t" font-size="12.5" transform="translate(1015.0 410.5) rotate(-5.79)" textLength="123.8" lengthAdjust="spacingAndGlyphs">SCREWS @ 4&quot; O.C.</text>
<text class="t" font-size="12.5" transform="translate(1038.9 444.2) rotate(-6.41)" textLength="102.1" lengthAdjust="spacingAndGlyphs">OFFSET CLEAT</text>
<text class="t" font-size="12.5" transform="translate(1002.8 498.3) rotate(-5.01)" textLength="143.0" lengthAdjust="spacingAndGlyphs">APPROVED SEALANT</text>
<text class="t" font-size="12.5" transform="translate(965.2 554.0) rotate(-6.02)" textLength="187.7" lengthAdjust="spacingAndGlyphs">APPROVED UNDERLAYMENT</text>
<text class="t" font-size="12.5" transform="translate(1007.7 599.8) rotate(-6.21)" textLength="151.6" lengthAdjust="spacingAndGlyphs">PLYWOOD SUBSTRATE</text>
<text class="t" font-size="12.5" transform="translate(1076.5 637.5) rotate(-6.51)" textLength="87.4" lengthAdjust="spacingAndGlyphs">VALLEY PAN</text>
<text class="t" font-size="12.5" transform="translate(54.1 598.2) rotate(-6.26)" textLength="40.3" lengthAdjust="spacingAndGlyphs">NOTE:</text>
<text class="t" font-size="12.5" transform="translate(55.2 611.2) rotate(-5.77)" textLength="204.7" lengthAdjust="spacingAndGlyphs">LAPS IN VALLEY ARE 12&quot; MIN.</text>
<text class="t" font-size="12.5" transform="translate(58.4 624.2) rotate(-5.77)" textLength="193.9" lengthAdjust="spacingAndGlyphs">APPROVED SEALANT IN ALL</text>
<text class="t" font-size="12.5" transform="translate(59.5 639.3) rotate(-6.36)" textLength="195.1" lengthAdjust="spacingAndGlyphs">LAPS IN VALLEY. TWO ROWS</text>
<text class="t" font-size="12.5" transform="translate(60.6 653.4) rotate(-6.16)" textLength="211.4" lengthAdjust="spacingAndGlyphs">OF SEALANT BETWEEN VALLEY</text>
<text class="t" font-size="12.5" transform="translate(61.7 667.5) rotate(-5.77)" textLength="161.1" lengthAdjust="spacingAndGlyphs">LAPS, 4&quot; UP FROM LAP.</text>
<text class="t" font-size="11.5" transform="translate(202.0 123.8) rotate(22.45)" textLength="81.7" lengthAdjust="spacingAndGlyphs">ALLOW FOR</text>
<text class="t" font-size="11.5" transform="translate(169.5 124.7) rotate(22.88)" textLength="143.3" lengthAdjust="spacingAndGlyphs">THERMAL EXPANSION</text>
<text class="t" font-size="11" transform="translate(501.3 254.8) rotate(-33.72)" textLength="47.7" lengthAdjust="spacingAndGlyphs">6&quot; MIN.</text>
</svg>
</body></html>
